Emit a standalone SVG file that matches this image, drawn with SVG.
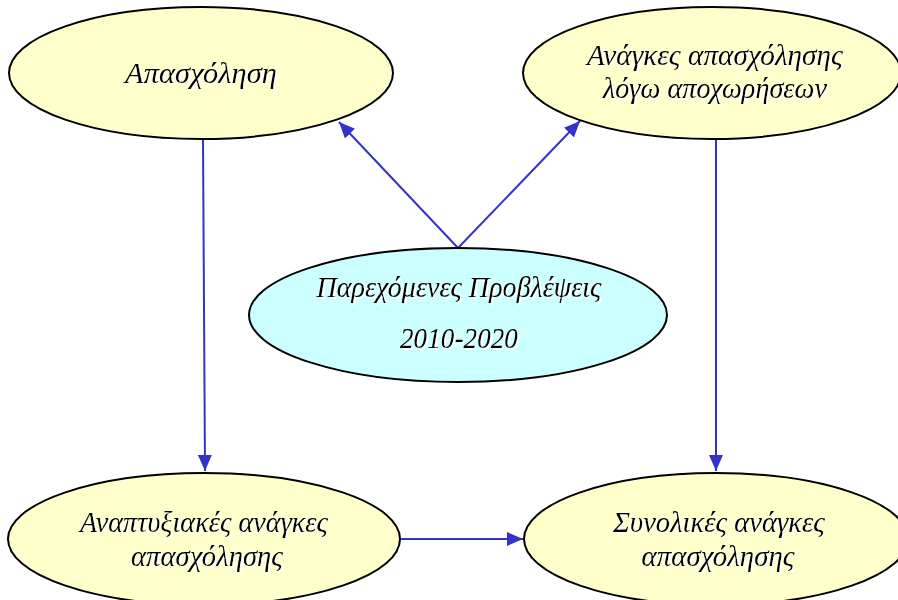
<svg xmlns="http://www.w3.org/2000/svg" width="898" height="600" viewBox="0 0 898 600">
<defs>
<marker id="ah" viewBox="0 0 16 14" refX="16" refY="7" markerWidth="16" markerHeight="14" markerUnits="userSpaceOnUse" orient="auto">
<path d="M0,0 L16,7 L0,14 z" fill="#3333cc"/>
</marker>
<filter id="sh" x="-10%" y="-30%" width="120%" height="160%">
<feFlood flood-color="#ffffff" result="w"/>
<feComposite in="w" in2="SourceAlpha" operator="in" result="ws"/>
<feOffset in="ws" dx="2" dy="2" result="o"/>
<feMerge><feMergeNode in="o"/><feMergeNode in="SourceGraphic"/></feMerge>
</filter>
<style>
.y{fill:#ffffcc;stroke:#000;stroke-width:2}
.c{fill:#ccffff;stroke:#000;stroke-width:2}
.t{font-family:"Liberation Serif","DejaVu Serif",serif;font-style:italic;font-size:29px;text-anchor:middle;fill:#000;filter:url(#sh)}
.e{stroke:#3333cc;stroke-width:2;fill:none;marker-end:url(#ah)}
</style>
</defs>
<rect width="898" height="600" fill="#fff"/>
<g id="connectors">
<line class="e" x1="203" y1="140" x2="205" y2="471"/>
<line class="e" x1="458" y1="248" x2="339" y2="122"/>
<line class="e" x1="458" y1="248" x2="580" y2="121"/>
<line class="e" x1="716" y1="140" x2="716" y2="471"/>
<line class="e" x1="400" y1="539" x2="523" y2="539"/>
</g>
<g id="n1">
<ellipse class="y" cx="201" cy="73" rx="192" ry="66"/>
<text class="t" x="201" y="83" textLength="152" lengthAdjust="spacingAndGlyphs">Απασχόληση</text>
</g>
<g id="n2">
<ellipse class="y" cx="712" cy="73" rx="189" ry="66"/>
<text class="t" x="715" y="65" textLength="256" lengthAdjust="spacingAndGlyphs">Ανάγκες απασχόλησης</text>
<text class="t" x="715" y="98" textLength="224" lengthAdjust="spacingAndGlyphs">λόγω αποχωρήσεων</text>
</g>
<g id="n3">
<ellipse class="c" cx="458" cy="315" rx="209" ry="67"/>
<text class="t" x="459" y="297" textLength="285" lengthAdjust="spacingAndGlyphs">Παρεχόμενες Προβλέψεις</text>
<text class="t" x="459" y="348" textLength="118" lengthAdjust="spacingAndGlyphs">2010-2020</text>
</g>
<g id="n4">
<ellipse class="y" cx="204" cy="539" rx="196" ry="66"/>
<text class="t" x="204" y="532" textLength="248" lengthAdjust="spacingAndGlyphs">Αναπτυξιακές ανάγκες</text>
<text class="t" x="207" y="566" textLength="152" lengthAdjust="spacingAndGlyphs">απασχόλησης</text>
</g>
<g id="n5">
<ellipse class="y" cx="716" cy="539" rx="192" ry="66"/>
<text class="t" x="719" y="532" textLength="212" lengthAdjust="spacingAndGlyphs">Συνολικές ανάγκες</text>
<text class="t" x="718" y="566" textLength="153" lengthAdjust="spacingAndGlyphs">απασχόλησης</text>
</g>
</svg>
